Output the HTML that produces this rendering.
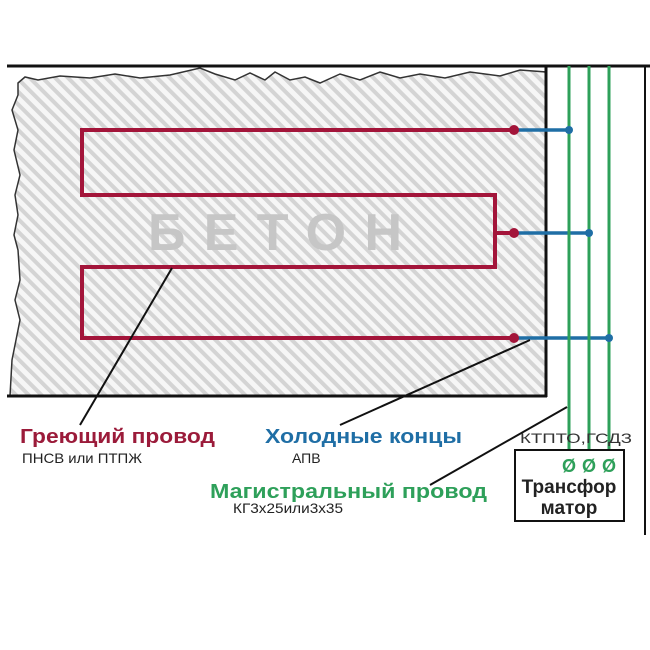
<!DOCTYPE html>
<html><head><meta charset="utf-8"><style>
html,body{margin:0;padding:0;background:#fff;width:650px;height:650px;overflow:hidden}
svg{display:block}
</style></head><body>
<svg width="650" height="650" viewBox="0 0 650 650" xmlns="http://www.w3.org/2000/svg" font-family="Liberation Sans, sans-serif">
<defs>
<pattern id="h" patternUnits="userSpaceOnUse" width="9" height="9" patternTransform="rotate(-45)">
<rect width="9" height="9" fill="#f6f6f6"/>
<rect width="4" height="9" fill="#d4d4d4"/>
</pattern>
</defs>
<path d="M18,83 L25,77 L38,80 L60,76 L90,78 L115,74 L140,78 L170,75 L200,68 L215,74 L235,80 L250,73 L265,80 L275,72 L290,80 L305,77 L320,83 L340,74 L360,80 L380,72 L400,78 L420,74 L445,78 L470,72 L500,76 L520,70 L546,72 L546,396 L10,396 L12,360 L16,340 L20,320 L15,300 L20,280 L18,250 L14,235 L18,215 L15,195 L20,175 L14,150 L18,130 L12,110 L18,95 Z" fill="url(#h)" stroke="#333" stroke-width="1.5"/>
<line x1="7" y1="66" x2="650" y2="66" stroke="#111" stroke-width="3"/>
<line x1="546" y1="66" x2="546" y2="397" stroke="#111" stroke-width="3"/>
<line x1="7" y1="396" x2="547" y2="396" stroke="#111" stroke-width="3"/>
<line x1="645" y1="66" x2="645" y2="535" stroke="#111" stroke-width="2"/>
<text x="148" y="250" font-size="52" font-weight="bold" fill="#c6c6c6" textLength="254" lengthAdjust="spacing">БЕТОН</text>
<path d="M514,130 L82,130 L82,195 L495,195 L495,267 L82,267 L82,338 L514,338 M495,233 L514,233" fill="none" stroke="#a3153a" stroke-width="4"/>
<g stroke="#1f6ea5" stroke-width="3.5">
<line x1="514" y1="130" x2="569" y2="130"/>
<line x1="514" y1="233" x2="589" y2="233"/>
<line x1="514" y1="338" x2="609" y2="338"/>
</g>
<g stroke="#2ea05a" stroke-width="3">
<line x1="569" y1="66" x2="569" y2="465"/>
<line x1="589" y1="66" x2="589" y2="465"/>
<line x1="609" y1="66" x2="609" y2="465"/>
</g>
<g fill="#a3153a"><circle cx="514" cy="130" r="5"/><circle cx="514" cy="233" r="5"/><circle cx="514" cy="338" r="5"/></g>
<g fill="#1f6ea5"><circle cx="569" cy="130" r="4"/><circle cx="589" cy="233" r="4"/><circle cx="609" cy="338" r="4"/></g>
<g stroke="#111" stroke-width="2" fill="none">
<line x1="172" y1="268" x2="80" y2="425"/>
<line x1="530" y1="340" x2="340" y2="425"/>
<line x1="567" y1="407" x2="430" y2="485"/>
</g>
<rect x="515" y="450" width="109" height="71" fill="#fff" stroke="#111" stroke-width="2"/>
<g fill="#2ea05a" font-size="18" font-weight="bold" text-anchor="middle"><text x="569" y="472">Ø</text><text x="589" y="472">Ø</text><text x="609" y="472">Ø</text></g>
<text x="569" y="493" font-size="19" font-weight="bold" fill="#222" text-anchor="middle">Трансфор</text>
<text x="569" y="514" font-size="19" font-weight="bold" fill="#222" text-anchor="middle">матор</text>
<text x="520" y="443" font-size="14" fill="#333" textLength="112" lengthAdjust="spacingAndGlyphs">КТПТО,ГСДЗ</text>
<text x="20" y="443" font-size="20" font-weight="bold" fill="#9b1b3a" textLength="195" lengthAdjust="spacingAndGlyphs">Греющий провод</text>
<text x="22" y="463" font-size="14" fill="#222" textLength="120" lengthAdjust="spacingAndGlyphs">ПНСВ или ПТПЖ</text>
<text x="265" y="443" font-size="20" font-weight="bold" fill="#1f6ea5" textLength="197" lengthAdjust="spacingAndGlyphs">Холодные концы</text>
<text x="292" y="463" font-size="14" fill="#222">АПВ</text>
<text x="210" y="498" font-size="20" font-weight="bold" fill="#2ea05a" textLength="277" lengthAdjust="spacingAndGlyphs">Магистральный провод</text>
<text x="233" y="513" font-size="14" fill="#222" textLength="110" lengthAdjust="spacingAndGlyphs">КГ3х25или3х35</text>
</svg>
</body></html>
